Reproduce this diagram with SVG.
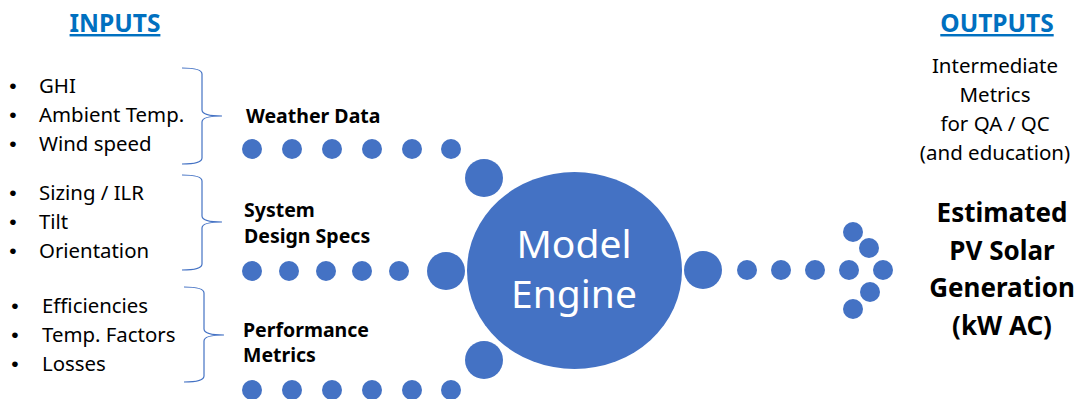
<svg xmlns="http://www.w3.org/2000/svg" width="1082" height="399" viewBox="0 0 1082 399">
  <style>
    text { font-family: "Noto Sans", "Liberation Sans", sans-serif; }
    .head { font-size: 24.5px; font-weight: bold; fill: #0070C0; text-anchor: middle; text-decoration: underline; }
    .item { font-size: 20.4px; fill: #000; }
    .bullet { font-family: "Liberation Sans", sans-serif; font-size: 21px; fill: #000; text-anchor: middle; }
    .label { font-size: 19.5px; font-weight: bold; fill: #000; }
    .note { font-size: 20.5px; fill: #000; text-anchor: middle; }
    .result { font-size: 26px; font-weight: bold; fill: #000; text-anchor: middle; }
    .engine-text { font-size: 39px; fill: #fff; text-anchor: middle; }
    .dot { fill: #4472C4; }
    .brace { fill: none; stroke: #4472C4; stroke-width: 1.2; }
  </style>

  <!-- headings -->
  <g id="inputs-heading">
    <text class="head" x="115" y="32">INPUTS</text>
  </g>
  <g id="outputs-heading">
    <text class="head" x="997" y="32">OUTPUTS</text>
  </g>

  <!-- weather inputs -->
  <g id="weather-inputs">
    <text class="bullet" x="13" y="93">•</text>
    <text class="item" x="39" y="93">GHI</text>
    <text class="bullet" x="13" y="122">•</text>
    <text class="item" x="39" y="122">Ambient Temp.</text>
    <text class="bullet" x="13" y="151">•</text>
    <text class="item" x="39" y="151">Wind speed</text>
    <path class="brace" d="M182,68 Q202,68 202,74 L202,110 Q202,116 222,116 Q202,116 202,122 L202,158 Q202,164 182,164"/>
  </g>

  <!-- system inputs -->
  <g id="system-inputs">
    <text class="bullet" x="13" y="200">•</text>
    <text class="item" x="39" y="200">Sizing / ILR</text>
    <text class="bullet" x="13" y="229">•</text>
    <text class="item" x="39" y="229">Tilt</text>
    <text class="bullet" x="13" y="258">•</text>
    <text class="item" x="39" y="258">Orientation</text>
    <path class="brace" d="M182,175 Q202,175 202,181 L202,216 Q202,222 222,222 Q202,222 202,228 L202,264 Q202,270 182,270"/>
  </g>

  <!-- performance inputs -->
  <g id="performance-inputs">
    <text class="bullet" x="15" y="313">•</text>
    <text class="item" x="42" y="313">Efficiencies</text>
    <text class="bullet" x="15" y="342">•</text>
    <text class="item" x="42" y="342">Temp. Factors</text>
    <text class="bullet" x="15" y="371">•</text>
    <text class="item" x="42" y="371">Losses</text>
    <path class="brace" d="M184,287 Q204,287 204,293 L204,329 Q204,335 224,335 Q204,335 204,341 L204,376 Q204,382 184,382"/>
  </g>

  <!-- stream labels -->
  <g id="weather-label">
    <text class="label" x="246" y="123">Weather Data</text>
  </g>
  <g id="system-label">
    <text class="label" x="244" y="217">System</text>
    <text class="label" x="244" y="243">Design Specs</text>
  </g>
  <g id="performance-label">
    <text class="label" x="243" y="337">Performance</text>
    <text class="label" x="243" y="362">Metrics</text>
  </g>

  <!-- dotted flows -->
  <g id="connectors">
    <g id="weather-flow">
      <circle class="dot" cx="252" cy="149" r="10"/>
      <circle class="dot" cx="292" cy="149" r="10"/>
      <circle class="dot" cx="332" cy="149" r="10"/>
      <circle class="dot" cx="372" cy="149" r="10"/>
      <circle class="dot" cx="412" cy="149" r="10"/>
      <circle class="dot" cx="451" cy="149" r="10"/>
      <circle class="dot" cx="484" cy="178" r="19"/>
    </g>
    <g id="system-flow">
      <circle class="dot" cx="252" cy="271" r="10"/>
      <circle class="dot" cx="289" cy="271" r="10"/>
      <circle class="dot" cx="326" cy="271" r="10"/>
      <circle class="dot" cx="362" cy="271" r="10"/>
      <circle class="dot" cx="399" cy="271" r="10"/>
      <circle class="dot" cx="446" cy="271" r="19"/>
    </g>
    <g id="performance-flow">
      <circle class="dot" cx="252" cy="390" r="10"/>
      <circle class="dot" cx="292" cy="390" r="10"/>
      <circle class="dot" cx="332" cy="390" r="10"/>
      <circle class="dot" cx="372" cy="390" r="10"/>
      <circle class="dot" cx="412" cy="390" r="10"/>
      <circle class="dot" cx="451" cy="390" r="10"/>
      <circle class="dot" cx="484" cy="360" r="19"/>
    </g>
    <g id="output-flow">
      <circle class="dot" cx="703" cy="270" r="19"/>
      <circle class="dot" cx="747" cy="270" r="10"/>
      <circle class="dot" cx="781" cy="270" r="10"/>
      <circle class="dot" cx="815" cy="270" r="10"/>
      <circle class="dot" cx="849" cy="270" r="10"/>
      <circle class="dot" cx="883" cy="270" r="10"/>
      <circle class="dot" cx="853" cy="232" r="10"/>
      <circle class="dot" cx="869" cy="248" r="10"/>
      <circle class="dot" cx="870" cy="292" r="10"/>
      <circle class="dot" cx="853" cy="309" r="10"/>
    </g>
  </g>

  <!-- central engine -->
  <g id="model-engine">
    <ellipse class="dot" cx="574.5" cy="270.5" rx="107.5" ry="98.5"/>
    <text class="engine-text" x="574" y="258">Model</text>
    <text class="engine-text" x="574" y="308">Engine</text>
  </g>

  <!-- outputs -->
  <g id="intermediate-metrics">
    <text class="note" x="995" y="73">Intermediate</text>
    <text class="note" x="995" y="102">Metrics</text>
    <text class="note" x="995" y="131">for QA / QC</text>
    <text class="note" x="995" y="160">(and education)</text>
  </g>
  <g id="pv-generation">
    <text class="result" x="1002" y="222">Estimated</text>
    <text class="result" x="1002" y="260">PV Solar</text>
    <text class="result" x="1002" y="297">Generation</text>
    <text class="result" x="1002" y="335">(kW AC)</text>
  </g>
</svg>
